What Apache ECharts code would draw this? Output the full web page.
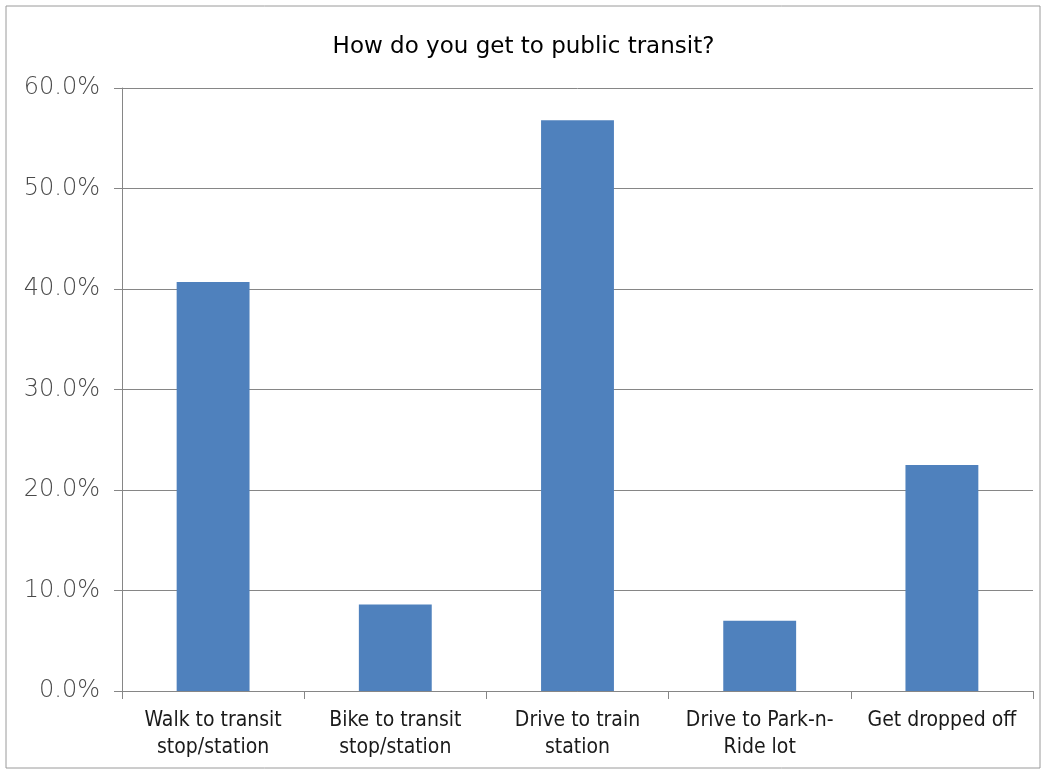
<!DOCTYPE html>
<html>
<head>
<meta charset="utf-8">
<script src="https://cdn.jsdelivr.net/npm/echarts@6/dist/echarts.min.js"></script>
<style>
html,body{margin:0;padding:0;background:#fff;}
#chart{width:1047px;height:773px;}
</style>
</head>
<body>
<div id="chart"></div>
<script>
const titleText = "How do you get to public transit?";
const categories = [
  "Walk to transit\nstop/station",
  "Bike to transit\nstop/station",
  "Drive to train\nstation",
  "Drive to Park-n-\nRide lot",
  "Get dropped off"
];
const values = [40.7, 8.6, 56.8, 7.0, 22.5];
const yTicks = [0, 10, 20, 30, 40, 50, 60];

const chart = echarts.init(document.getElementById('chart'), null, {renderer: 'canvas'});
chart.setOption({
  backgroundColor: '#ffffff',
  animation: false,
  graphic: [{
    type: 'rect',
    shape: {x: 6, y: 6, width: 1034, height: 762},
    style: {fill: 'none', stroke: '#9a9a9a', lineWidth: 1}
  }],
  title: {
    text: titleText,
    left: 'center',
    top: 31,
    textStyle: {
      fontFamily: '"DejaVu Sans", sans-serif',
      fontSize: 23,
      fontWeight: 'normal',
      color: '#000000'
    }
  },
  grid: {left: 122, right: 14, top: 88, bottom: 82, containLabel: false},
  xAxis: {
    type: 'category',
    data: categories,
    axisLine: {lineStyle: {color: '#868686', width: 1}},
    axisTick: {show: true, alignWithLabel: false, length: 8, lineStyle: {color: '#868686'}},
    axisLabel: {
      interval: 0,
      margin: 16,
      fontFamily: '"DejaVu Sans Condensed", sans-serif',
      fontSize: 21,
      lineHeight: 27,
      color: '#1a1a1a'
    }
  },
  yAxis: {
    type: 'value',
    min: 0,
    max: 60,
    interval: 10,
    axisLine: {show: true, lineStyle: {color: '#868686', width: 1}},
    axisTick: {show: true, length: 8, lineStyle: {color: '#868686'}},
    splitLine: {show: true, lineStyle: {color: '#868686', width: 1}},
    axisLabel: {
      margin: 22,
      fontFamily: '"DejaVu Sans", sans-serif',
      fontWeight: 200,
      fontSize: 24,
      color: '#4a4a4a',
      formatter: v => yTicks.includes(v) ? v.toFixed(1) + '%' : ''
    }
  },
  series: [{
    type: 'bar',
    data: values,
    barWidth: '40%',
    itemStyle: {color: '#4F81BD'}
  }]
});
</script>
</body>
</html>
